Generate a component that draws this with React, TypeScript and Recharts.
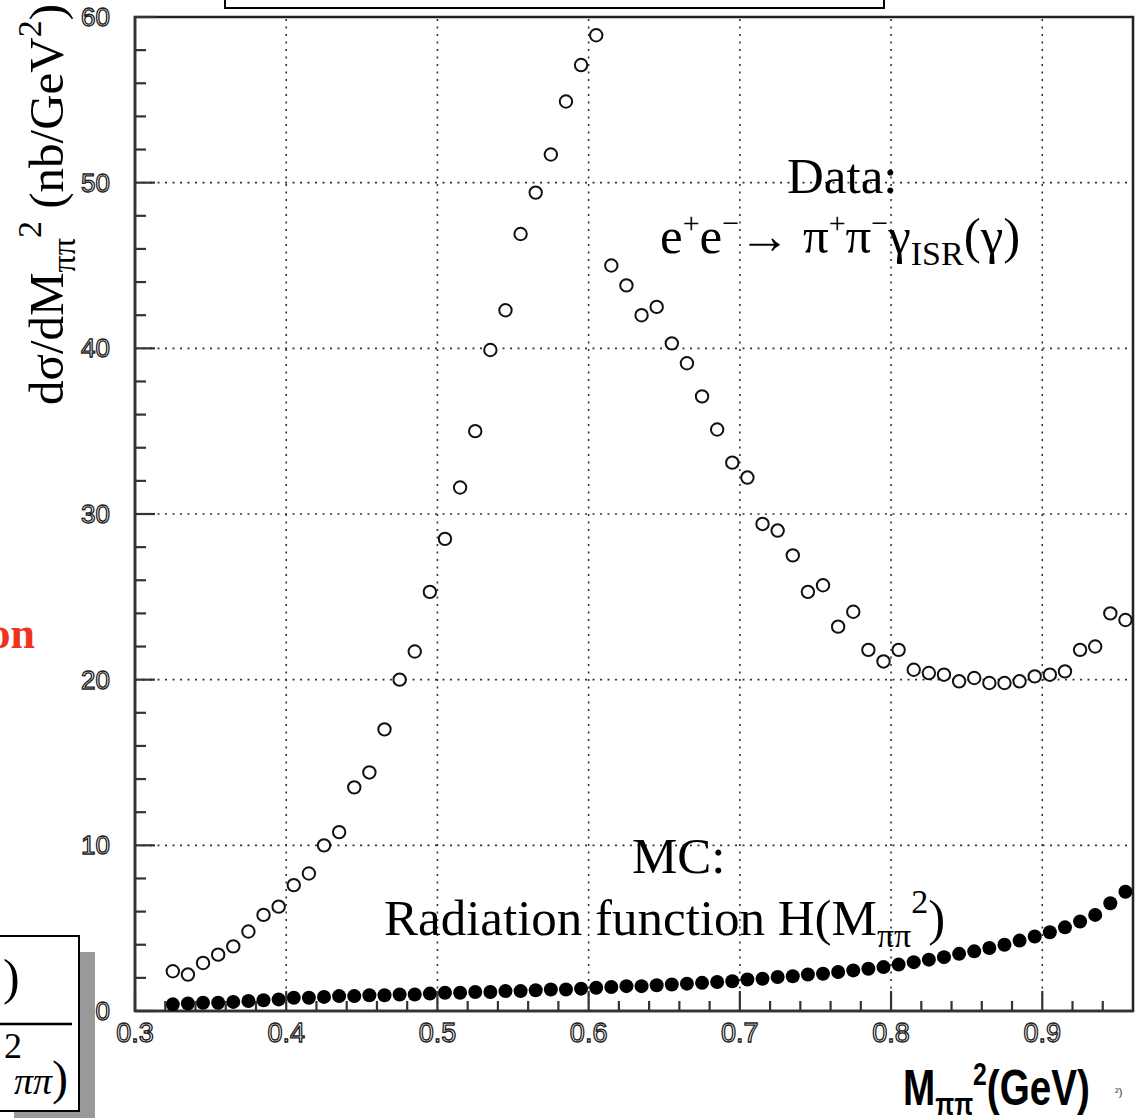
import { ScatterChart, Scatter, XAxis, YAxis, ReferenceLine, ReferenceArea } from "recharts";

// M_pipi^2 bin centres (GeV^2)
const MASS = [
  0.325, 0.335, 0.345, 0.355, 0.365, 0.375, 0.385, 0.395, 0.405, 0.415,
  0.425, 0.435, 0.445, 0.455, 0.465, 0.475, 0.485, 0.495, 0.505, 0.515,
  0.525, 0.535, 0.545, 0.555, 0.565, 0.575, 0.585, 0.595, 0.605, 0.615,
  0.625, 0.635, 0.645, 0.655, 0.665, 0.675, 0.685, 0.695, 0.705, 0.715,
  0.725, 0.735, 0.745, 0.755, 0.765, 0.775, 0.785, 0.795, 0.805, 0.815,
  0.825, 0.835, 0.845, 0.855, 0.865, 0.875, 0.885, 0.895, 0.905, 0.915,
  0.925, 0.935, 0.945, 0.955,
];

// data: e+e- -> pi+pi- gamma_ISR (nb/GeV^2)
const DATA_XSEC = [
  2.4, 2.2, 2.9, 3.4, 3.9, 4.8, 5.8, 6.3, 7.6, 8.3,
  10.0, 10.8, 13.5, 14.4, 17.0, 20.0, 21.7, 25.3, 28.5, 31.6,
  35.0, 39.9, 42.3, 46.9, 49.4, 51.7, 54.9, 57.1, 58.9, 45.0,
  43.8, 42.0, 42.5, 40.3, 39.1, 37.1, 35.1, 33.1, 32.2, 29.4,
  29.0, 27.5, 25.3, 25.7, 23.2, 24.1, 21.8, 21.1, 21.8, 20.6,
  20.4, 20.3, 19.9, 20.1, 19.8, 19.8, 19.9, 20.2, 20.3, 20.5,
  21.8, 22.0, 24.0, 23.6,
];

// MC: radiation function H(M^2)
const MC_H = [
  0.4, 0.45, 0.5, 0.5, 0.55, 0.6, 0.65, 0.7, 0.8, 0.8,
  0.85, 0.9, 0.9, 0.95, 0.95, 1.0, 1.0, 1.05, 1.1, 1.1,
  1.15, 1.15, 1.2, 1.2, 1.25, 1.3, 1.3, 1.35, 1.4, 1.45,
  1.5, 1.5, 1.55, 1.6, 1.65, 1.7, 1.75, 1.8, 1.9, 1.95,
  2.05, 2.1, 2.2, 2.25, 2.35, 2.45, 2.55, 2.65, 2.8, 2.95,
  3.1, 3.25, 3.45, 3.6, 3.8, 4.0, 4.25, 4.5, 4.75, 5.05,
  5.4, 5.8, 6.5, 7.2,
];

const X_TICKS = [
  0.3, 0.32, 0.34, 0.36, 0.38, 0.4, 0.42, 0.44, 0.46, 0.48, 0.5, 0.52, 0.54,
  0.56, 0.58, 0.6, 0.62, 0.64, 0.66, 0.68, 0.7, 0.72, 0.74, 0.76, 0.78, 0.8,
  0.82, 0.84, 0.86, 0.88, 0.9, 0.92, 0.94,
];
const Y_TICKS = [
  0, 2, 4, 6, 8, 10, 12, 14, 16, 18, 20, 22, 24, 26, 28, 30, 32, 34, 36, 38,
  40, 42, 44, 46, 48, 50, 52, 54, 56, 58, 60,
];
const X_GRID = [0.4, 0.5, 0.6, 0.7, 0.8, 0.9];
const Y_GRID = [10, 20, 30, 40, 50];

const dataPoints = MASS.map((m, i) => ({ x: m, y: DATA_XSEC[i] }));
const mcPoints = MASS.map((m, i) => ({ x: m, y: MC_H[i] }));

const W = 1138;
const H = 1118;
const PLOT = { left: 135, top: 17, right: 1133, bottom: 1011 };
const SERIF = "'Liberation Serif', 'Times New Roman', serif";
const SANS = "'Liberation Sans', Arial, sans-serif";

const isMajor = (v: number, step: number) =>
  Math.abs(v / step - Math.round(v / step)) < 1e-6;

// ROOT style: ticks point inward, hollow-looking labels
function YTick({ y, payload }: any) {
  const v = payload.value;
  const major = isMajor(v, 10);
  return (
    <g>
      <line x1={PLOT.left} x2={PLOT.left + (major ? 20 : 11)} y1={y} y2={y} stroke="#333" strokeWidth={2.2} />
      {major && (
        <text
          x={PLOT.left - 25}
          y={y}
          dy={9}
          textAnchor="end"
          fontFamily={SANS}
          fontSize={26}
          fill="#fff"
          stroke="#222"
          strokeWidth={1.3}
        >
          {v}
        </text>
      )}
    </g>
  );
}

function XTick({ x, payload }: any) {
  const v = payload.value;
  const major = isMajor(v, 0.1);
  return (
    <g>
      <line x1={x} x2={x} y1={PLOT.bottom} y2={PLOT.bottom - (major ? 20 : 10)} stroke="#333" strokeWidth={2.2} />
      {major && (
        <text
          x={x}
          y={PLOT.bottom + 31}
          textAnchor="middle"
          fontFamily={SANS}
          fontSize={27}
          fill="#fff"
          stroke="#222"
          strokeWidth={1.3}
        >
          {v.toFixed(1)}
        </text>
      )}
    </g>
  );
}

const OpenDot = (p: any) => (
  <circle cx={p.cx} cy={p.cy} r={6.2} fill="#fff" stroke="#111" strokeWidth={2} />
);
const FilledDot = (p: any) => <circle cx={p.cx} cy={p.cy} r={7} fill="#000" />;

function Overlay() {
  return (
    <svg
      width={W}
      height={H}
      style={{ position: "absolute", left: 0, top: 0, pointerEvents: "none" }}
    >
      {/* slide leftovers */}
      <rect x={225} y={-20} width={659} height={28} fill="none" stroke="#000" strokeWidth={2} />
      <text x={35} y={648} textAnchor="end" fontFamily={SERIF} fontWeight="bold" fontSize={44} fill="#ee3322">
        on
      </text>
      <rect x={14} y={952} width={81} height={175} fill="#999" />
      <rect x={-2} y={936} width={81} height={175} fill="#fff" stroke="#000" strokeWidth={2} />
      <text x={3} y={994} fontFamily={SERIF} fontSize={50}>)</text>
      <line x1={0} x2={72} y1={1024} y2={1024} stroke="#000" strokeWidth={2.5} />
      <text x={4} y={1058} fontFamily={SERIF} fontSize={36}>2</text>
      <text x={68} y={1094} textAnchor="end" fontFamily={SERIF} fontSize={48}>
        <tspan fontStyle="italic" fontSize={38}>ππ</tspan>)
      </text>

      {/* y axis title */}
      <text transform="translate(63, 405) rotate(-90)" fontFamily={SERIF} fontSize={49} fill="#000">
        dσ/dM
        <tspan dy={12} fontSize={34}>ππ</tspan>
        <tspan dy={-34} fontSize={34}>2</tspan>
        <tspan dy={22}> (nb/GeV</tspan>
        <tspan dy={-22} fontSize={34}>2</tspan>
        <tspan dy={22}>)</tspan>
      </text>

      {/* x axis title */}
      <text
        x={903}
        y={1105}
        fontFamily={SANS}
        fontWeight="bold"
        fontSize={50}
        fill="#000"
        textLength={187}
        lengthAdjust="spacingAndGlyphs"
      >
        M
        <tspan dy={10} fontSize={32}>ππ</tspan>
        <tspan dy={-30} fontSize={32}>2</tspan>
        <tspan dy={20}>(GeV)</tspan>
      </text>
      <text x={1115} y={1096} fontFamily={SANS} fontSize={11} fill="#333">²)</text>

      {/* annotations */}
      <text x={787} y={193} fontFamily={SERIF} fontSize={51} fill="#000">Data:</text>
      <text x={660} y={253} fontFamily={SERIF} fontSize={51} fill="#000">
        e<tspan dy={-20} fontSize={30}>+</tspan>
        <tspan dy={20}>e</tspan>
        <tspan dy={-20} fontSize={30}>−</tspan>
        <tspan dy={20}>→ π</tspan>
        <tspan dy={-20} fontSize={30}>+</tspan>
        <tspan dy={20}>π</tspan>
        <tspan dy={-20} fontSize={30}>−</tspan>
        <tspan dy={20}>γ</tspan>
        <tspan dy={12} fontSize={34}>ISR</tspan>
        <tspan dy={-12}>(γ)</tspan>
      </text>
      <text x={632} y={873} fontFamily={SERIF} fontSize={51} fill="#000">MC:</text>
      <text x={384} y={935} fontFamily={SERIF} fontSize={51} fill="#000">
        Radiation function H(M
        <tspan dy={12} fontSize={34}>ππ</tspan>
        <tspan dy={-34} fontSize={34}>2</tspan>
        <tspan dy={22}>)</tspan>
      </text>
    </svg>
  );
}

export default function App() {
  return (
    <div
      style={{
        position: "absolute",
        left: 0,
        top: 0,
        width: W,
        height: H,
        overflow: "hidden",
        background: "#fff",
      }}
    >
      <ScatterChart
        width={W}
        height={H}
        margin={{ top: PLOT.top, right: W - PLOT.right, bottom: H - PLOT.bottom - 1, left: PLOT.left - 1 }}
      >
        <XAxis
          dataKey="x"
          type="number"
          domain={[0.3, 0.96]}
          ticks={X_TICKS}
          interval={0}
          height={1}
          allowDataOverflow
          axisLine={{ stroke: "#333", strokeWidth: 2.5 }}
          tickLine={false}
          tick={(p: any) => <XTick {...p} />}
        />
        <YAxis
          dataKey="y"
          type="number"
          domain={[0, 60]}
          ticks={Y_TICKS}
          interval={0}
          width={1}
          allowDataOverflow
          axisLine={{ stroke: "#333", strokeWidth: 2.5 }}
          tickLine={false}
          tick={(p: any) => <YTick {...p} />}
        />
        <ReferenceArea x1={0.3} x2={0.96} y1={0} y2={60} fill="none" stroke="#222" strokeWidth={2.5} />
        {X_GRID.map((v) => (
          <ReferenceLine key={`gx${v}`} x={v} stroke="#333" strokeWidth={1.6} strokeDasharray="2 5.5" />
        ))}
        {Y_GRID.map((v) => (
          <ReferenceLine key={`gy${v}`} y={v} stroke="#333" strokeWidth={1.6} strokeDasharray="2 5.5" />
        ))}
        <Scatter data={mcPoints} shape={FilledDot} isAnimationActive={false} />
        <Scatter data={dataPoints} shape={OpenDot} isAnimationActive={false} />
      </ScatterChart>
      <Overlay />
    </div>
  );
}
